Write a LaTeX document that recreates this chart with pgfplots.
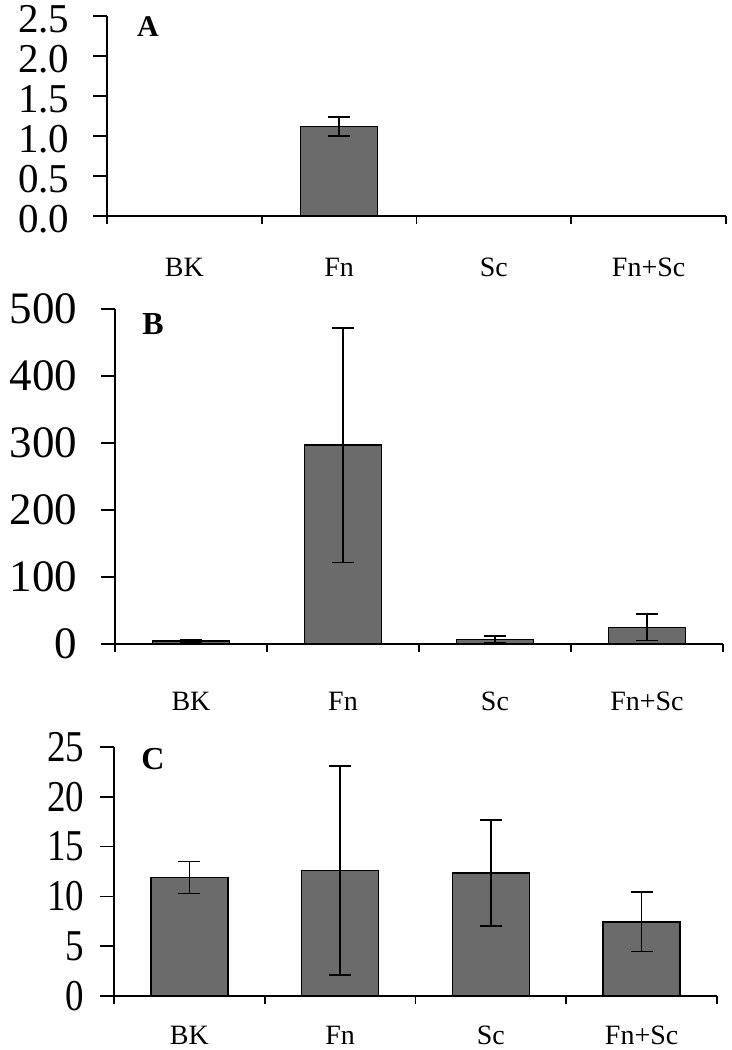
\documentclass[border=0pt]{standalone}
\usepackage{pgfplots}
\pgfplotsset{compat=1.18}
\usepackage{fontspec}
\setmainfont{Liberation Serif}
\definecolor{barfill}{RGB}{107,107,107}
\pgfplotsset{
  panel/.style={
    scale only axis, anchor=south west,
    axis x line=bottom, axis y line=left,
    axis line style={-, line width=0.8pt, black},
    xmin=-0.5, xmax=3.5, ymin=0,
    xtick={-0.5,0.5,1.5,2.5,3.5}, xticklabels={},
    extra x ticks={0,1,2,3},
    extra x tick labels={BK,Fn,Sc,Fn+Sc},
    extra x tick style={xtick style={draw=none},
      tick label style={font=\fontsize{14}{16}\selectfont, anchor=base, inner sep=0pt, text depth=0pt}},
    tick align=outside,
    xtick style={/pgfplots/major tick length=4pt, line width=0.8pt, black},
    ytick style={/pgfplots/major tick length=7pt, line width=0.8pt, black},
    /pgf/number format/assume math mode=true,
    ybar, bar width=38.5pt,
  },
  bars/.style={fill=barfill, draw=black, line width=0.75pt,
    error bars/.cd, y dir=both, y explicit,
    error bar style={line width=0.75pt, black},
    error mark options={rotate=90, mark size=5.5pt, line width=0.75pt, black}},
}
\begin{document}
\begin{tikzpicture}
\useasboundingbox (0,0) rectangle (366pt,-525pt);
% Panel A
\begin{axis}[panel, at={(53.5pt,-108pt)}, width=309.5pt, height=100pt,
  ymax=2.5, ytick={0,0.5,1,1.5,2,2.5},
  yticklabel style={font=\fontsize{20.5}{22}\selectfont, xshift=-11pt, yshift=-1.5pt,
    /pgf/number format/.cd, fixed, fixed zerofill, precision=1},
  extra x tick style={tick label style={yshift=-26pt}}]
\addplot[bars] coordinates {(0,0) +- (0,0) (1,1.12) +- (0,0.12) (2,0) +- (0,0) (3,0) +- (0,0)};
\end{axis}
\node[font=\fontsize{15}{16}\selectfont\bfseries] at (74pt,-13.5pt) {A};
% Panel B
\begin{axis}[panel, at={(57.5pt,-322pt)}, width=304pt, height=167.5pt,
  ymax=500, ytick={0,100,200,300,400,500},
  yticklabel style={font=\fontsize{22.5}{24}\selectfont, xshift=-11pt},
  extra x tick style={tick label style={yshift=-29pt}}]
\addplot[bars] coordinates {(0,4.5) +- (0,2) (1,297) +- (0,175) (2,7) +- (0,5) (3,25) +- (0,20)};
\end{axis}
\node[font=\fontsize{16}{17}\selectfont\bfseries] at (76.5pt,-162pt) {B};
% Panel C
\begin{axis}[panel, at={(57pt,-498pt)}, width=301.5pt, height=124.5pt,
  ymax=25, ytick={0,5,10,15,20,25},
  yticklabel style={font=\fontsize{22}{24}\selectfont, xscale=0.84, xshift=-9pt},
  extra x tick style={tick label style={yshift=-20pt}}]
\addplot[bars] coordinates {(0,11.9) +- (0,1.6) (1,12.6) +- (0,10.5) (2,12.35) +- (0,5.3) (3,7.45) +- (0,3.0)};
\end{axis}
\node[font=\fontsize{16}{17}\selectfont\bfseries] at (76.5pt,-379.5pt) {C};
\end{tikzpicture}
\end{document}
